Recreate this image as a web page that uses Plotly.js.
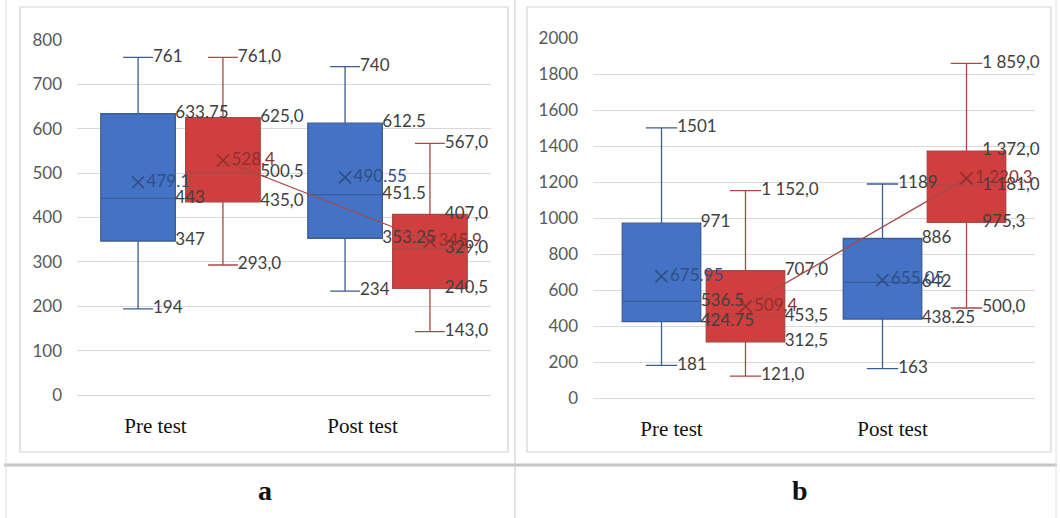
<!DOCTYPE html>
<html><head><meta charset="utf-8">
<script src="https://cdn.plot.ly/plotly-3.0.1.min.js"></script>
<style>html,body{margin:0;padding:0;background:#fff}#chart{width:1060px;height:518px}</style>
</head><body><div id="chart"></div>
<script>
// ---------- data ----------
const categories = ['Pre test', 'Post test'];
const catIndex = [0, 1];

// panel a
const aBlueMin  = [194, 234];
const aBlueQ1   = [347, 353.25];
const aBlueMed  = [443, 451.5];
const aBlueMean = [479.1, 490.55];
const aBlueQ3   = [633.75, 612.5];
const aBlueMax  = [761, 740];

const aRedMin  = [293.0, 143.0];
const aRedQ1   = [435.0, 240.5];
const aRedMed  = [500.5, 329.0];
const aRedMean = [528.4, 345.9];
const aRedQ3   = [625.0, 407.0];
const aRedMax  = [761.0, 567.0];

// panel b
const bBlueMin  = [181, 163];
const bBlueQ1   = [424.75, 438.25];
const bBlueMed  = [536.5, 642];
const bBlueMean = [675.95, 655.05];
const bBlueQ3   = [971, 886];
const bBlueMax  = [1501, 1189];

const bRedMin  = [121.0, 500.0];
const bRedQ1   = [312.5, 975.3];
const bRedMed  = [453.5, 1181.0];
const bRedMean = [509.4, 1220.3];
const bRedQ3   = [707.0, 1372.0];
const bRedMax  = [1152.0, 1859.0];

const panelLabels = ['a', 'b'];

// ---------- helpers ----------
function fmtBlue(v){ return String(v); }
function fmtRed(v){
  const s = v.toFixed(1).split('.');
  const i = s[0].replace(/\B(?=(\d{3})+(?!\d))/g, ' ');
  return i + ',' + s[1];
}
const W = 1060, H = 518;
const px = x => x / W;
const py = y => 1 - y / H;

const BLUE = {fill:'#4472c4', line:'#3a5d92', mean:'#2f4f86', fmt:fmtBlue};
const RED  = {fill:'#d03f3e', line:'#a84848', mean:'#8f2f2f', fmt:fmtRed};
const labelFont = {family:'Lato, "Open Sans", sans-serif', size:17, color:'#404040'};

const traces = [];
function series(xa, ya, st, d, off, bw){
  const xs = catIndex.map(c => c + off);
  traces.push({
    type:'box', xaxis:xa, yaxis:ya, x:xs,
    q1:d.q1, median:d.med, q3:d.q3, lowerfence:d.min, upperfence:d.max,
    width:bw, whiskerwidth:0.4, boxpoints:false,
    fillcolor:st.fill, line:{color:st.line, width:1.3},
    hoverinfo:'skip', showlegend:false
  });
  return xs;
}
// labelsPulledIn: per category, labels pulled left (as in the reference, near the chart's right edge)
function labels(xa, ya, st, d, xs, bw, withLine, pulledIn){
  const cap = bw * 0.4 / 2;
  const boxOff = xs.map((x, i) => pulledIn[i] ? cap : bw/2);
  traces.push({type:'scatter', mode:'text', xaxis:xa, yaxis:ya,
    x: xs.map(x=>x+cap).concat(xs.map(x=>x+cap)),
    y: d.min.concat(d.max),
    text: d.min.concat(d.max).map(st.fmt),
    textposition:'middle right', textfont:labelFont, hoverinfo:'skip', showlegend:false, cliponaxis:false});
  const bx = xs.map((x,i)=>x+boxOff[i]);
  traces.push({type:'scatter', mode:'text', xaxis:xa, yaxis:ya,
    x: bx.concat(bx, bx),
    y: d.q1.concat(d.med, d.q3),
    text: d.q1.concat(d.med, d.q3).map(st.fmt),
    textposition:'middle right', textfont:labelFont, hoverinfo:'skip', showlegend:false, cliponaxis:false});
  traces.push({type:'scatter', mode: withLine ? 'lines+markers+text' : 'markers+text', xaxis:xa, yaxis:ya,
    x: xs, y: d.mean, text: d.mean.map(st.fmt),
    textposition:'middle right',
    textfont:{family:labelFont.family, size:17, color:st.mean},
    line:{color:st.line, width:1.3},
    marker:{symbol:'x-thin', size:12, line:{width:1.6, color:st.mean}, color:st.mean},
    hoverinfo:'skip', showlegend:false, cliponaxis:false});
}

function panel(xa, ya, blue, red, off, bw){
  const xb = series(xa, ya, BLUE, blue, -off, bw);
  const xr = series(xa, ya, RED, red, off, bw);
  labels(xa, ya, BLUE, blue, xb, bw, false, [false, false]);
  labels(xa, ya, RED, red, xr, bw, true, [false, true]);
}

panel('x','y',
  {min:aBlueMin,q1:aBlueQ1,med:aBlueMed,mean:aBlueMean,q3:aBlueQ3,max:aBlueMax},
  {min:aRedMin,q1:aRedQ1,med:aRedMed,mean:aRedMean,q3:aRedQ3,max:aRedMax}, 0.205, 0.36);
panel('x2','y2',
  {min:bBlueMin,q1:bBlueQ1,med:bBlueMed,mean:bBlueMean,q3:bBlueQ3,max:bBlueMax},
  {min:bRedMin,q1:bRedQ1,med:bRedMed,mean:bRedMean,q3:bRedQ3,max:bRedMax}, 0.19, 0.355);

const tickFontY = {family:'Lato, "Open Sans", sans-serif', size:17, color:'#595959'};
const tickFontX = {family:'"Liberation Serif", "DejaVu Serif", serif', size:21, color:'#111'};
function xaxis(dom, shift){
  return {domain:dom, range:[-0.5,1.5], tickvals:catIndex, ticktext:categories,
    showgrid:false, zeroline:false, showline:false, ticks:'', tickfont:tickFontX,
    ticklabelshift:shift, ticklabelstandoff:16, fixedrange:true};
}
function yaxis(dom, rng, dt, anchor){
  return {domain:dom, range:rng, dtick:dt, anchor:anchor, showgrid:true, gridcolor:'#d9d9d9', gridwidth:1,
    zeroline:true, zerolinecolor:'#d9d9d9', zerolinewidth:1, showline:false, ticks:'',
    tickfont:tickFontY, ticklabelstandoff:14, fixedrange:true};
}

const lineGray = '#d4d4d4';
const shapes = [
  {type:'rect', xref:'paper', yref:'paper', x0:px(20), x1:px(508), y0:py(452), y1:py(7), line:{color:lineGray, width:1.2}},
  {type:'rect', xref:'paper', yref:'paper', x0:px(527), x1:px(1051), y0:py(452), y1:py(7), line:{color:lineGray, width:1.2}},
  {type:'line', xref:'paper', yref:'paper', x0:px(4), x1:px(1057), y0:py(465), y1:py(465), line:{color:'#c4c4c4', width:3}},
  {type:'line', xref:'paper', yref:'paper', x0:px(515), x1:px(515), y0:py(0), y1:py(518), line:{color:'#d0d0d0', width:1.2}},
  {type:'line', xref:'paper', yref:'paper', x0:px(6), x1:px(6), y0:py(0), y1:py(518), line:{color:'#e0e0e0', width:1}},
  {type:'line', xref:'paper', yref:'paper', x0:px(1056), x1:px(1056), y0:py(0), y1:py(518), line:{color:'#e0e0e0', width:1}}
];

const annotations = [
  {xref:'paper', yref:'paper', x:px(265), y:py(490), xanchor:'center', yanchor:'middle',
   text:'<b>'+panelLabels[0]+'</b>', showarrow:false,
   font:{family:'"Liberation Serif", serif', size:28, color:'#111'}},
  {xref:'paper', yref:'paper', x:px(800), y:py(490), xanchor:'center', yanchor:'middle',
   text:'<b>'+panelLabels[1]+'</b>', showarrow:false,
   font:{family:'"Liberation Serif", serif', size:28, color:'#111'}}
];

const layout = {
  width:W, height:H, margin:{l:0,r:0,t:0,b:0},
  paper_bgcolor:'#ffffff', plot_bgcolor:'rgba(0,0,0,0)',
  showlegend:false,
  xaxis: Object.assign(xaxis([px(77), px(491)], -25), {anchor:'y'}),
  yaxis: yaxis([py(395), py(40)], [0,800], 100, 'x'),
  xaxis2: Object.assign(xaxis([px(593), px(1035)], -32), {anchor:'y2'}),
  yaxis2: yaxis([py(398), py(38)], [0,2000], 200, 'x2'),
  shapes: shapes,
  annotations: annotations
};

Plotly.newPlot('chart', traces, layout, {staticPlot:true, displayModeBar:false});
</script></body></html>
